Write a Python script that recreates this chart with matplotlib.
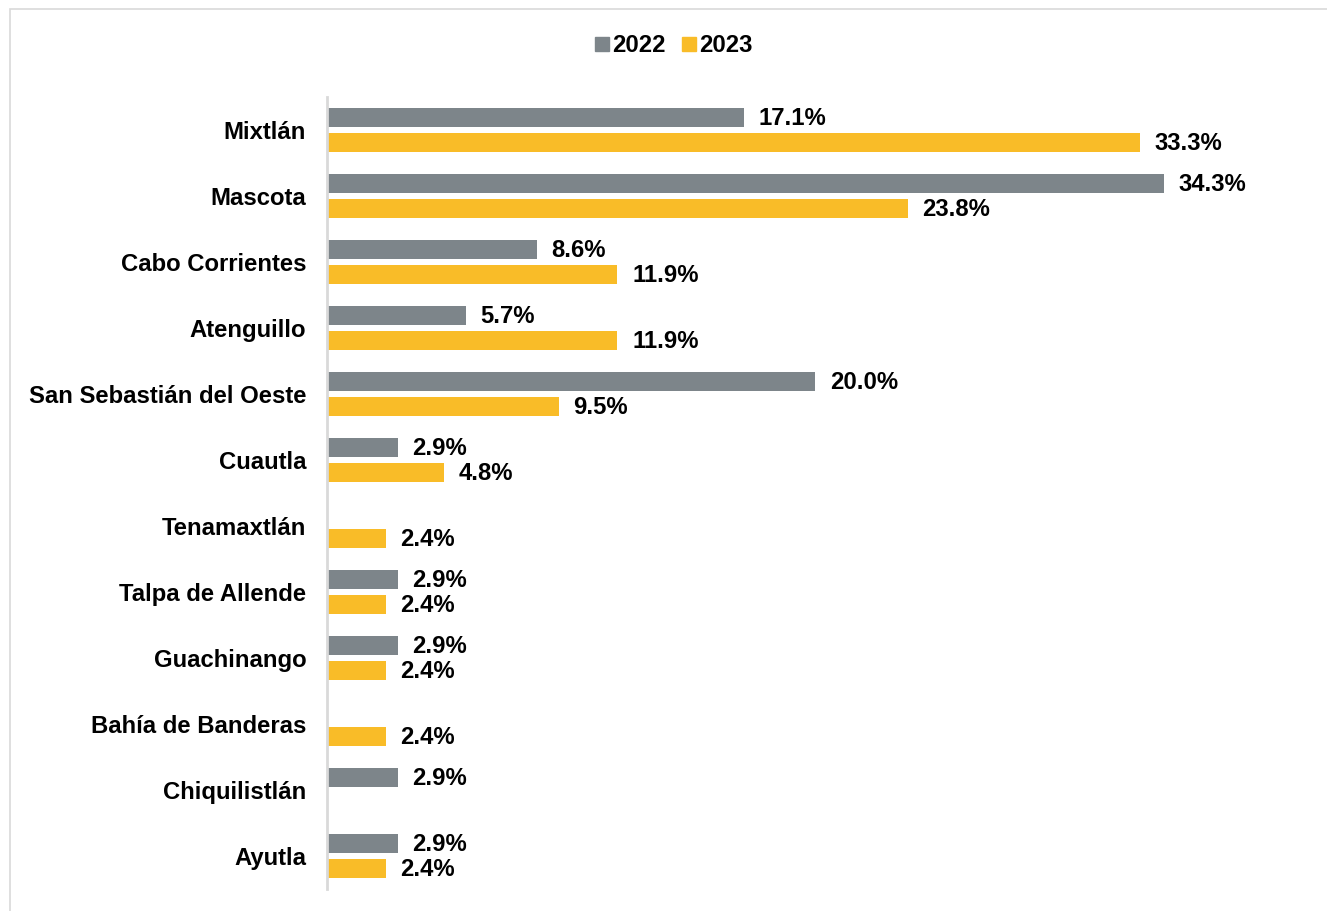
import matplotlib

matplotlib.use("Agg")

import matplotlib.pyplot as plt
import numpy as np
from matplotlib.patches import Rectangle

CATEGORIES = [
    "Mixtlán",
    "Mascota",
    "Cabo Corrientes",
    "Atenguillo",
    "San Sebastián del Oeste",
    "Cuautla",
    "Tenamaxtlán",
    "Talpa de Allende",
    "Guachinango",
    "Bahía de Banderas",
    "Chiquilistlán",
    "Ayutla",
]
VALUES_2022 = [17.1, 34.3, 8.6, 5.7, 20.0, 2.9, None, 2.9, 2.9, None, 2.9, 2.9]
VALUES_2023 = [33.3, 23.8, 11.9, 11.9, 9.5, 4.8, 2.4, 2.4, 2.4, 2.4, None, 2.4]
SERIES = ["2022", "2023"]

GRAY = "#7D858A"
YELLOW = "#F9BC28"
FS = 17.2

plt.rcParams["font.family"] = ["Liberation Sans", "DejaVu Sans"]

W, H = 1327, 911
fig = plt.figure(figsize=(W / 100, H / 100), dpi=100)
ax = fig.add_axes([327 / W, 1 - 889 / H, 1 - 327 / W, (889 - 97) / H])

# outer frame of the chart area
fig.add_artist(Rectangle((10 / W, -0.01), 1.0, 1 - 9 / H + 0.01, transform=fig.transFigure,
                         fill=False, edgecolor="#D9D9D9", linewidth=1.2))

y = np.arange(len(CATEGORIES))
offset, height = 0.19, 0.28
px_per_unit = 24.4
xmax = (W - 327) / px_per_unit


def draw(values, shift, color):
    for yi, v in zip(y, values):
        if v is None:
            continue
        ax.barh(yi + shift, v, height=height, color=color)
        ax.text(v + 0.6, yi + shift + 0.02, f"{v:.1f}%", ha="left", va="center",
                fontsize=FS, fontweight="bold", color="black")


draw(VALUES_2022, -offset, GRAY)
draw(VALUES_2023, offset, YELLOW)

ax.set_xlim(0, xmax)
ax.set_ylim(len(CATEGORIES) - 0.5, -0.5)
ax.set_yticks(y)
ax.set_yticklabels(CATEGORIES, fontsize=FS, fontweight="bold")
ax.tick_params(axis="y", length=0, pad=15)
ax.set_xticks([])
for side in ["top", "right", "bottom"]:
    ax.spines[side].set_visible(False)
ax.spines["left"].set_color("#D9D9D9")
ax.spines["left"].set_linewidth(2)
ax.patch.set_alpha(0)

# legend
handles = [Rectangle((0, 0), 1, 1, color=c) for c in (GRAY, YELLOW)]
fig.legend(handles, SERIES, loc="center", bbox_to_anchor=(674 / W, 1 - 46 / H), ncol=2,
           frameon=False, prop={"size": FS, "weight": "bold"},
           handlelength=0.55, handleheight=0.55, handletextpad=0.15, columnspacing=0.7)

fig.savefig("out.png", dpi=100)
